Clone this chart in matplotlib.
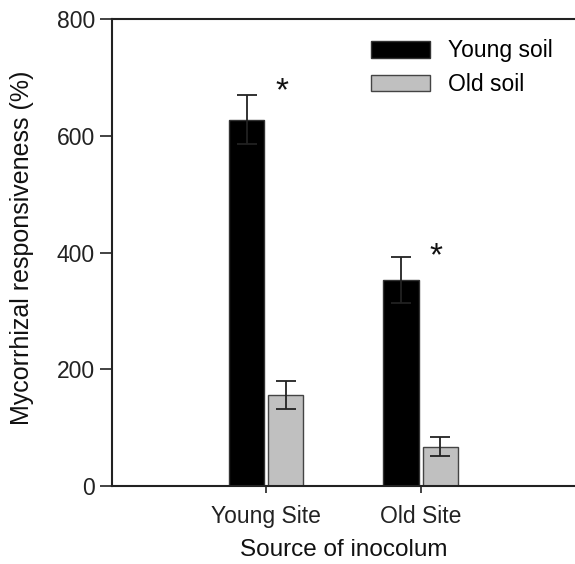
import matplotlib
matplotlib.use("Agg")
import matplotlib.pyplot as plt
import numpy as np

plt.rcParams['font.family'] = ['Liberation Sans', 'DejaVu Sans']

sites = ["Young Site", "Old Site"]
young_soil = [628, 353]
young_err = [42, 39]
old_soil = [155, 67]
old_err = [24, 17]
star_y = [676, 393]

fig = plt.figure(figsize=(5.75, 5.64), dpi=100)
ax = fig.add_axes([0.1943, 0.139, 0.806, 0.8266])

x = np.arange(1, len(sites) + 1)
w = 0.228
gap = 0.013
ax.bar(x - w / 2 - gap, young_soil, width=w, color='black', edgecolor='#333333',
       linewidth=1, label='Young soil', zorder=2)
ax.bar(x + w / 2 + gap, old_soil, width=w, color='#c0c0c0', edgecolor='#444444',
       linewidth=1, label='Old soil', zorder=2)
ax.errorbar(x - w / 2 - gap, young_soil, yerr=young_err, fmt='none', ecolor='#222222',
            elinewidth=1.3, capsize=7, capthick=1.3, zorder=3)
ax.errorbar(x + w / 2 + gap, old_soil, yerr=old_err, fmt='none', ecolor='#222222',
            elinewidth=1.3, capsize=7, capthick=1.3, zorder=3)

for xi, sy in zip(x, star_y):
    ax.text(xi + 0.1, sy, '*', fontsize=24, ha='center', va='center', color='#111111')

ax.set_xlim(0, 3)
ax.set_ylim(0, 800)
ax.set_yticks([0, 200, 400, 600, 800])
ax.set_xticks(x)
ax.set_xticklabels(sites)
ax.tick_params(axis='both', labelsize=16.5, colors='#222222', width=1.2)
ax.tick_params(axis='y', length=9, pad=3)
ax.tick_params(axis='x', length=5, pad=9)
for s in ['left', 'bottom', 'top']:
    ax.spines[s].set_linewidth(1.5)
    ax.spines[s].set_color('#222222')
ax.spines['right'].set_visible(False)

ax.set_xlabel('Source of inocolum', fontsize=17.5, color='#111111')
ax.set_ylabel('Mycorrhizal responsiveness (%)', fontsize=18, color='#111111')
ax.xaxis.set_label_coords(0.5, -0.115)
ax.yaxis.set_label_coords(-0.167, 0.51)

leg = ax.legend(loc='upper left', bbox_to_anchor=(0.559, 0.957), frameon=False,
                fontsize=16.5, handlelength=2.6, handleheight=0.72,
                labelspacing=0.45, handletextpad=0.75, borderpad=0,
                borderaxespad=0)

fig.savefig('out.png', dpi=100)
